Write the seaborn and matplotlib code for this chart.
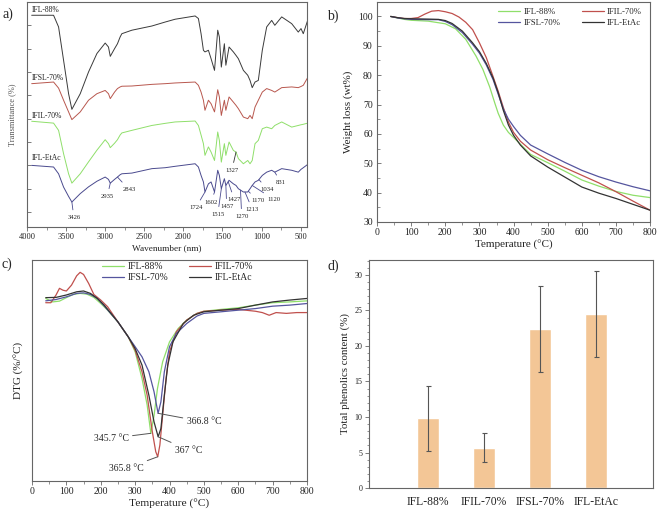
import numpy as np
import pandas as pd
import seaborn as sns
import matplotlib.pyplot as plt
from matplotlib.ticker import MultipleLocator

sns.set_style('ticks')
plt.rcParams['font.family'] = ['Liberation Serif', 'DejaVu Serif']
plt.rcParams['axes.edgecolor'] = '#666666'
plt.rcParams['xtick.color'] = '#666666'
plt.rcParams['ytick.color'] = '#666666'
plt.rcParams['xtick.labelcolor'] = '#222222'
plt.rcParams['ytick.labelcolor'] = '#222222'
plt.rcParams['axes.linewidth'] = 0.8

# ---- a) FTIR spectra (transmittance, offset, a.u.) ----
wavenumber = [3940, 3660, 3596, 3532, 3468, 3426, 3319, 3213, 3106, 3000, 2958, 2935, 2880,
              2843, 2809, 2787, 2659, 2403, 2233, 2106, 1850, 1808, 1774, 1744, 1724, 1680,
              1646, 1602, 1561, 1540, 1515, 1476, 1457, 1416, 1361, 1327, 1297, 1233, 1177,
              1148, 1120, 1084, 1042, 991, 935, 871, 831, 743, 615, 531, 496, 467, 411]
ftir_ifl88 = [94.3, 94.3, 89.3, 75.0, 60.7, 54.0, 60.7, 70.0, 77.9, 82.4, 80.7, 76.7, 80.0,
              82.1, 85.0, 86.4, 87.9, 89.7, 91.4, 92.6, 94.0, 92.9, 86.4, 79.3, 78.6, 79.3,
              75.7, 70.7, 87.9, 85.0, 72.1, 82.1, 72.9, 80.7, 78.6, 77.1, 75.7, 70.7, 68.6,
              66.4, 63.3, 65.7, 66.4, 79.3, 89.3, 92.1, 90.0, 93.6, 90.7, 87.1, 88.6, 86.4, 92.1]
ftir_ifsl70 = [65.0, 65.7, 63.1, 57.9, 52.9, 49.6, 52.9, 57.9, 60.7, 62.1, 60.7, 58.6, 61.4,
               62.9, 63.6, 63.9, 64.0, 64.7, 65.0, 65.3, 65.7, 64.3, 61.4, 57.9, 53.6, 57.9,
               56.4, 52.9, 62.4, 59.3, 51.4, 57.9, 53.6, 59.3, 57.1, 55.7, 54.3, 50.7, 50.0,
               51.4, 50.0, 55.0, 57.9, 61.4, 62.9, 62.1, 61.4, 63.3, 63.6, 63.3, 63.8, 64.3, 67.6]
ftir_ifil70 = [48.9, 48.1, 45.0, 35.0, 26.4, 22.4, 26.4, 31.5, 36.5, 41.0, 39.3, 37.6, 39.5,
               41.0, 43.0, 43.9, 45.0, 47.1, 48.0, 48.6, 49.0, 47.1, 43.0, 39.3, 34.3, 37.9,
               35.7, 32.1, 44.3, 40.7, 31.4, 39.3, 34.3, 40.0, 36.4, 35.7, 32.9, 30.7, 32.1,
               30.7, 32.1, 39.3, 40.7, 45.7, 46.4, 45.7, 47.1, 48.6, 46.4, 47.1, 47.4, 47.6, 48.1]
ftir_ifletac = [30.0, 29.3, 26.4, 20.7, 16.7, 14.3, 17.9, 20.8, 23.2, 25.0, 24.0, 22.4, 24.0,
                25.0, 26.0, 26.4, 26.7, 28.6, 29.0, 29.6, 30.7, 29.3, 25.7, 22.9, 18.6, 22.1,
                22.9, 18.6, 27.9, 25.7, 20.0, 24.3, 21.4, 23.6, 22.1, 21.4, 20.0, 18.6, 18.6,
                20.0, 21.4, 22.9, 23.6, 25.7, 27.1, 27.9, 27.1, 28.6, 27.9, 27.1, 28.3, 29.0, 30.4]
peak_labels = ['3426', '2935', '2843', '1724', '1602', '1515', '1457', '1427', '1270',
               '1213', '1170', '1120', '1034', '831']

# ---- b) TGA ----
tga_t_ifl88 = [40, 60, 80, 100, 150, 200, 230, 260, 290, 310, 330, 345, 355, 370, 385, 400,
               450, 500, 550, 600, 650, 700, 750, 800]
tga_ifl88 = [100, 99.5, 99.0, 98.7, 98.4, 97.5, 95.8, 92.2, 86.5, 82.0, 76.0, 70.5, 67.0,
             63.0, 60.5, 58.8, 53.0, 50.2, 47.3, 44.3, 42.2, 40.4, 39.1, 38.3]
tga_t_ifil70 = [40, 60, 80, 100, 120, 140, 160, 180, 200, 220, 240, 260, 280, 300, 320, 340,
                355, 370, 385, 400, 420, 450, 500, 550, 600, 650, 700, 750, 800]
tga_ifil70 = [100, 99.6, 99.3, 99.3, 99.6, 100.8, 101.8, 102.0, 101.6, 101.0, 99.8, 98.0,
              95.5, 91.0, 86.0, 79.5, 74.5, 69.0, 64.0, 60.5, 57.5, 54.5, 51.2, 48.5, 45.9,
              43.3, 40.3, 37.1, 34.0]
tga_t_ifsl70 = [40, 60, 80, 100, 150, 180, 200, 220, 250, 280, 300, 320, 340, 355, 370, 385,
                400, 420, 450, 500, 550, 600, 650, 700, 750, 800]
tga_ifsl70 = [100, 99.5, 99.2, 99.0, 98.9, 98.9, 98.3, 97.2, 94.5, 90.5, 87.5, 83.5, 78.5,
              73.5, 68.5, 65.0, 62.5, 59.5, 56.2, 53.2, 50.3, 47.6, 45.4, 43.6, 42.0, 40.6]
tga_t_ifletac = [40, 60, 80, 100, 150, 180, 200, 220, 250, 280, 300, 320, 340, 355, 370, 385,
                 400, 420, 450, 500, 550, 600, 650, 700, 750, 800]
tga_ifletac = [100, 99.6, 99.3, 99.2, 99.1, 99.0, 98.6, 97.6, 95.0, 91.0, 88.0, 84.0, 79.0,
               74.0, 68.0, 63.0, 59.5, 56.2, 52.5, 48.7, 45.3, 41.9, 39.8, 38.0, 36.0, 34.0]

# ---- c) DTG (%/°C) ----
dtg_t_ifl88 = [40, 60, 80, 100, 120, 140, 160, 180, 200, 220, 250, 280, 300, 320, 335, 345.7,
               355, 365, 380, 400, 425, 450, 480, 500, 550, 600, 650, 700, 750, 800]
dtg_ifl88 = [0.0, -0.013, -0.010, 0.003, 0.015, 0.019, 0.016, 0.004, -0.019, -0.044, -0.088,
             -0.144, -0.200, -0.300, -0.400, -0.506, -0.440, -0.338, -0.238, -0.163, -0.113,
             -0.081, -0.056, -0.048, -0.041, -0.035, -0.025, -0.016, -0.013, -0.009]
dtg_t_ifil70 = [40, 55, 70, 80, 90, 100, 115, 130, 140, 150, 165, 180, 200, 220, 250, 280,
                300, 320, 335, 350, 360, 365.8, 372, 380, 390, 400, 420, 450, 480, 500, 550,
                600, 650, 670, 690, 710, 740, 770, 800]
dtg_ifil70 = [-0.016, -0.016, 0.013, 0.038, 0.031, 0.028, 0.050, 0.085, 0.098, 0.090, 0.056,
              0.015, -0.006, -0.031, -0.088, -0.144, -0.194, -0.275, -0.363, -0.500, -0.575,
              -0.594, -0.550, -0.438, -0.300, -0.200, -0.125, -0.081, -0.056, -0.048, -0.044,
              -0.041, -0.048, -0.053, -0.063, -0.053, -0.056, -0.053, -0.053]
dtg_t_ifsl70 = [40, 70, 100, 130, 150, 170, 190, 210, 250, 280, 300, 320, 340, 355, 366.8,
                375, 385, 400, 420, 450, 480, 500, 550, 600, 650, 700, 750, 800]
dtg_ifsl70 = [-0.009, -0.004, 0.006, 0.019, 0.021, 0.015, 0.0, -0.028, -0.088, -0.144,
              -0.181, -0.219, -0.275, -0.350, -0.431, -0.388, -0.275, -0.181, -0.131, -0.094,
              -0.066, -0.056, -0.050, -0.044, -0.038, -0.029, -0.025, -0.019]
dtg_t_ifletac = [40, 70, 100, 130, 150, 170, 190, 210, 250, 280, 300, 320, 340, 355, 367,
                 375, 385, 395, 410, 440, 470, 500, 550, 600, 650, 700, 750, 800]
dtg_ifletac = [0.003, 0.004, 0.013, 0.025, 0.028, 0.019, 0.0, -0.025, -0.088, -0.144,
               -0.188, -0.250, -0.363, -0.463, -0.519, -0.488, -0.363, -0.250, -0.163,
               -0.094, -0.063, -0.050, -0.044, -0.038, -0.025, -0.013, -0.006, 0.0]

# ---- d) total phenolics ----
samples = ['IFL-88%', 'IFIL-70%', 'IFSL-70%', 'IFL-EtAc']
tpc = [9.8, 5.7, 22.4, 24.5]
tpc_err = [4.6, 2.1, 6.1, 6.1]

c_green, c_red, c_blue, c_black = '#8fdf6a', '#c0504d', '#55559e', '#333333'
bar_color = '#f3c696'

fig = plt.figure(figsize=(6.58, 5.15), dpi=100)

# ================= a =================
ax = fig.add_axes([0.041, 0.5592, 0.4255, 0.437])
for vals, col in [(ftir_ifl88, '#3a3a3a'), (ftir_ifsl70, '#b8574e'),
                  (ftir_ifil70, c_green), (ftir_ifletac, '#4a4a8e')]:
    sns.lineplot(x=wavenumber, y=vals, color=col, lw=0.7, sort=False, estimator=None, ax=ax)
ax.set_xlim(4000, 420)
ax.set_ylim(3.6, 100)
ax.xaxis.set_major_locator(MultipleLocator(500))
ax.xaxis.set_minor_locator(MultipleLocator(250))
ax.set_yticks(np.arange(10, 100, 10))
ax.set_yticklabels([])
ax.tick_params(axis='x', direction='out', length=3, width=0.6, labelsize=6, pad=1.5)
ax.tick_params(axis='x', which='minor', direction='out', length=1.8, width=0.5)
ax.tick_params(axis='y', direction='in', length=3, width=0.6)
ax.set_xlabel('Wavenumber (nm)', fontsize=6.7, labelpad=2, color='#222222')
ax.set_ylabel('Transmittance (%)', fontsize=6, labelpad=4, color='#555555')
for txt, yy in [('IFL-88%', 96.5), ('IFSL-70%', 67.6), ('IFIL-70%', 51.1), ('IFL-EtAc', 33.3)]:
    ax.text(3945, yy, txt, fontsize=5.5, ha='left', va='center', color='#222222')

wn_r = wavenumber[::-1]
blue_r = ftir_ifletac[::-1]
green_r = ftir_ifil70[::-1]
label_pos = [(3400, 7.6), (2973, 16.7), (2697, 19.7), (1841, 11.9), (1646, 14.3), (1561, 9.0),
             (1446, 12.4), (1348, 15.3), (1254, 8.1), (1118, 11.1), (1050, 15.0), (837, 15.3),
             (927, 19.7), (752, 22.6)]
for lab, (tx, ty) in zip(peak_labels, label_pos):
    w = float(lab)
    yv = np.interp(w, wn_r, blue_r)
    ax.annotate(lab, xy=(w, yv), xytext=(tx, ty), fontsize=4.8, ha='center', va='center',
                color='#222222',
                arrowprops=dict(arrowstyle='-', color='#4a4a8e', lw=0.6, shrinkA=1.5, shrinkB=0))
ax.annotate('1327', xy=(1327, np.interp(1327, wn_r, green_r)), xytext=(1381, 27.9),
            fontsize=4.8, ha='center', va='center', color='#222222',
            arrowprops=dict(arrowstyle='-', color='#333333', lw=0.6, shrinkA=1.5, shrinkB=0))

# ================= b =================
ax = fig.add_axes([0.573, 0.569, 0.415, 0.427])
sns.lineplot(x=tga_t_ifl88, y=tga_ifl88, color=c_green, lw=0.9, label='IFL-88%', ax=ax)
sns.lineplot(x=tga_t_ifil70, y=tga_ifil70, color=c_red, lw=0.9, label='IFIL-70%', ax=ax)
sns.lineplot(x=tga_t_ifsl70, y=tga_ifsl70, color=c_blue, lw=0.9, label='IFSL-70%', ax=ax)
sns.lineplot(x=tga_t_ifletac, y=tga_ifletac, color=c_black, lw=0.9, label='IFL-EtAc', ax=ax)
ax.set_xlim(0, 800)
ax.set_ylim(30, 104.9)
ax.xaxis.set_major_locator(MultipleLocator(100))
ax.xaxis.set_minor_locator(MultipleLocator(50))
ax.yaxis.set_major_locator(MultipleLocator(10))
ax.yaxis.set_minor_locator(MultipleLocator(5))
ax.tick_params(axis='x', which='major', direction='out', length=3, width=0.6, labelsize=7, pad=1.5)
ax.tick_params(axis='x', which='minor', direction='out', length=1.8, width=0.5)
ax.tick_params(axis='y', which='major', direction='in', length=3, width=0.6, labelsize=7, pad=3)
ax.tick_params(axis='y', which='minor', direction='in', length=1.8, width=0.5)
ax.set_xlabel('Temperature (°C)', fontsize=8, labelpad=2, color='#222222')
ax.set_ylabel('Weight loss (wt%)', fontsize=8, labelpad=4, color='#222222')
h, l = ax.get_legend_handles_labels()
ax.legend([h[0], h[2], h[1], h[3]], [l[0], l[2], l[1], l[3]], ncol=2, frameon=False,
          fontsize=6.3, loc='upper right', bbox_to_anchor=(0.97, 0.975), borderaxespad=0,
          borderpad=0, handlelength=2.5, handletextpad=0.4, columnspacing=2.4,
          labelspacing=0.35)

# ================= c =================
ax = fig.add_axes([0.0486, 0.066, 0.418, 0.429])
sns.lineplot(x=dtg_t_ifl88, y=dtg_ifl88, color=c_green, lw=0.9, label='IFL-88%', ax=ax)
sns.lineplot(x=dtg_t_ifil70, y=dtg_ifil70, color=c_red, lw=0.9, label='IFIL-70%', ax=ax)
sns.lineplot(x=dtg_t_ifsl70, y=dtg_ifsl70, color=c_blue, lw=0.9, label='IFSL-70%', ax=ax)
sns.lineplot(x=dtg_t_ifletac, y=dtg_ifletac, color=c_black, lw=0.9, label='IFL-EtAc', ax=ax)
ax.set_xlim(0, 800)
ax.set_ylim(-0.685, 0.144)
ax.set_yticks([])
ax.xaxis.set_major_locator(MultipleLocator(100))
ax.xaxis.set_minor_locator(MultipleLocator(50))
ax.tick_params(axis='x', which='major', direction='out', length=3, width=0.6, labelsize=7, pad=1.5)
ax.tick_params(axis='x', which='minor', direction='out', length=1.8, width=0.5)
ax.set_xlabel('Temperature (°C)', fontsize=8.2, labelpad=2, color='#222222')
ax.set_ylabel('DTG (%/°C)', fontsize=8, labelpad=6, color='#222222')
h, l = ax.get_legend_handles_labels()
ax.legend([h[0], h[2], h[1], h[3]], [l[0], l[2], l[1], l[3]], ncol=2, frameon=False,
          fontsize=6.9, loc='upper left', bbox_to_anchor=(0.255, 0.99), borderaxespad=0,
          borderpad=0, handlelength=2.3, handletextpad=0.4, columnspacing=2.1,
          labelspacing=0.2)
lp = dict(arrowstyle='-', color='#555555', lw=0.7, shrinkA=0.5, shrinkB=0)
ax.annotate('366.8 °C', xy=(366.8, -0.431), xytext=(450, -0.463), fontsize=7,
            ha='left', va='center', arrowprops=lp)
ax.annotate('345.7 °C', xy=(345.7, -0.506), xytext=(281, -0.525), fontsize=7,
            ha='right', va='center', arrowprops=lp)
ax.annotate('367 °C', xy=(367, -0.519), xytext=(416, -0.569), fontsize=7,
            ha='left', va='center', arrowprops=lp)
ax.annotate('365.8 °C', xy=(365.8, -0.594), xytext=(324, -0.638), fontsize=7,
            ha='right', va='center', arrowprops=lp)

# ================= d =================
ax = fig.add_axes([0.561, 0.0524, 0.4316, 0.4427])
df_tpc = pd.DataFrame({'sample': samples, 'tpc': tpc})
sns.barplot(data=df_tpc, x='sample', y='tpc', color=bar_color, saturation=1, width=0.4,
            errorbar=None, ax=ax)
ax.errorbar(np.arange(len(samples)), tpc, yerr=tpc_err, fmt='none', ecolor='#555555',
            elinewidth=0.8, capsize=1.8, capthick=0.8)
ax.set_xlim(-1.05, 4.02)
ax.set_ylim(0, 32.1)
ax.yaxis.set_major_locator(MultipleLocator(5))
ax.yaxis.set_minor_locator(MultipleLocator(1))
ax.tick_params(axis='x', length=0, labelsize=8.4, pad=6, labelcolor='#222222')
ax.tick_params(axis='y', which='major', direction='out', length=3, width=0.6, labelsize=5.8, pad=2)
ax.tick_params(axis='y', which='minor', direction='out', length=1.6, width=0.5)
ax.set_xlabel('')
ax.set_ylabel('Total phenolics content (%)', fontsize=7.8, labelpad=3, color='#222222')

# panel letters
fig.text(0.004, 1 - 14 / 515, 'a)', fontsize=10, va='center', ha='left')
fig.text(0.497, 1 - 16 / 515, 'b)', fontsize=10, va='center', ha='left')
fig.text(0.003, 1 - 264 / 515, 'c)', fontsize=10, va='center', ha='left')
fig.text(0.498, 1 - 266 / 515, 'd)', fontsize=10, va='center', ha='left')

fig.savefig('out.png', dpi=100)
